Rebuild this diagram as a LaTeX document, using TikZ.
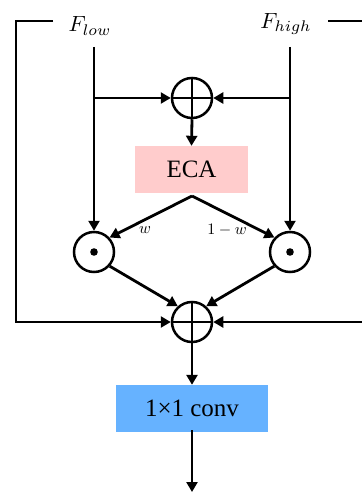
\documentclass[tikz,border=0pt]{standalone}
\usepackage{graphicx}
\usepackage{fontspec}
\setmainfont{Liberation Serif}
\usetikzlibrary{arrows.meta}
\definecolor{ecapink}{HTML}{FFCCCC}
\definecolor{convblue}{HTML}{66B2FF}
\begin{document}
\begin{tikzpicture}[x=1pt,y=-1pt,
  plain/.style={line width=2.8pt},
  conn/.style={line width=2.8pt,-{Triangle[length=10pt,width=11pt]}},
  opnode/.style={circle,draw,line width=2.5pt,minimum size=40pt,inner sep=0pt},
  boxnode/.style={draw=none,minimum height=47pt,inner sep=0pt,font=\fontsize{25}{30}\selectfont},
  lbl/.style={inner sep=0pt},
  wlbl/.style={inner sep=0pt}]
\useasboundingbox (0,0) rectangle (361,492);
% nodes
\node[lbl] (flow) at (90,26) {\scalebox{2.2}{$F_{low}$}};
\node[lbl] (fhigh) at (286,24) {\scalebox{2.2}{$F_{high}$}};
\node[opnode] (s1) at (192,98) {};
\node[boxnode,fill=ecapink,minimum width=113pt] (eca) at (191.5,169.5) {ECA};
\node[opnode] (m1) at (94,252) {};
\node[opnode] (m2) at (290,252) {};
\node[opnode] (s2) at (192,322) {};
\node[boxnode,fill=convblue,minimum width=152pt] (conv) at (192,408.5) {1×1 conv};
\node[wlbl] (wl) at (145,230) {\scalebox{1.6}{$w$}};
\node[wlbl] (wr) at (227,230) {\scalebox{1.6}{$1-w$}};
% operator symbols
\draw[plain] (s1.north) -- (s1.south) (s1.west) -- (s1.east);
\draw[plain] (s2.north) -- (s2.south) (s2.west) -- (s2.east);
\fill (m1.center) circle (3.8pt);
\fill (m2.center) circle (3.8pt);
% coordinates
\coordinate (lt) at (94,47);
\coordinate (rt) at (290,47);
\coordinate (lj) at (94,98);
\coordinate (rj) at (290,98);
\coordinate (bl1) at (53,21);
\coordinate (bl2) at (16,21);
\coordinate (bl3) at (16,322);
\coordinate (br1) at (328,21);
\coordinate (br2) at (372,21);
\coordinate (br3) at (372,322);
\coordinate (ecab) at (192,196);
\coordinate (outp) at (192,492);
% connectors
\draw[conn] (lt) -- (m1.north);
\draw[conn] (rt) -- (m2.north);
\draw[conn] (lj) -- (s1.west);
\draw[conn] (rj) -- (s1.east);
\draw[conn] (s1.south) -- (eca.north);
\draw[conn] (ecab) -- (m1.43);
\draw[conn] (ecab) -- (m2.137);
\draw[conn] (m1.-42) -- (s2.132);
\draw[conn] (m2.-138) -- (s2.48);
\draw[conn] (bl1) -- (bl2) -- (bl3) -- (s2.west);
\draw[conn] (br1) -- (br2) -- (br3) -- (s2.east);
\draw[conn] (s2.south) -- (conv.north);
\draw[conn] ([yshift=2pt]conv.south) -- (outp);
\end{tikzpicture}
\end{document}
